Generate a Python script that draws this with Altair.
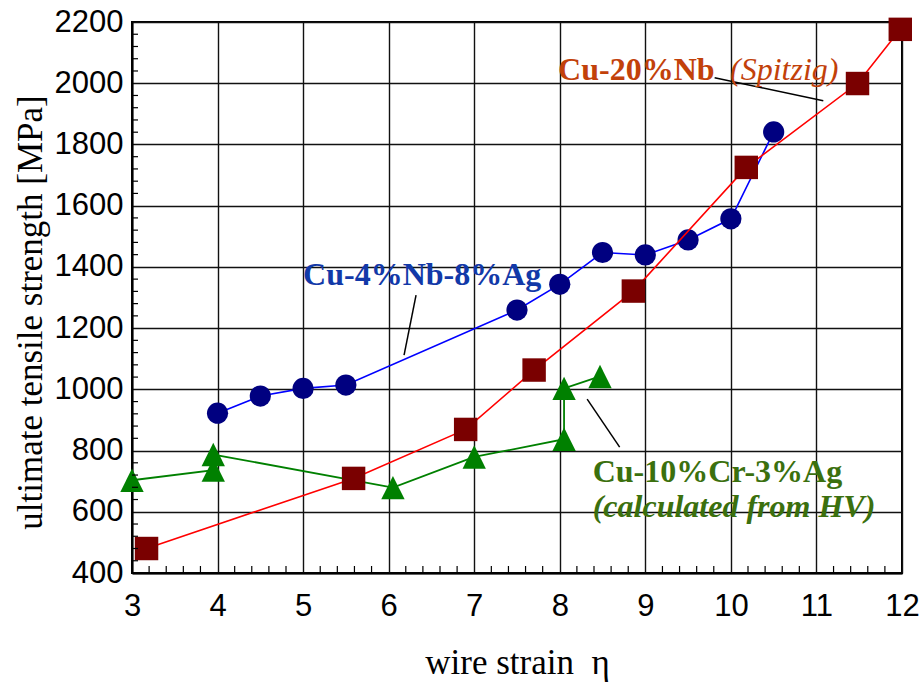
import altair as alt
import pandas as pd

# ---- data ----
blue_x = [4.0, 4.5, 5.0, 5.5, 7.5, 8.0, 8.5, 9.0, 9.5, 10.0, 10.5]
blue_y = [922, 978, 1003, 1014, 1259, 1343, 1447, 1439, 1488, 1557, 1841]

red_x = [3.17, 5.59, 6.90, 7.70, 8.86, 10.18, 11.48, 11.98]
red_y = [480, 709, 869, 1063, 1321, 1725, 1999, 2176]

green_x = [3.0, 3.95, 3.95, 6.05, 7.0, 8.05, 8.05, 8.47]
green_y = [703, 736, 787, 679, 779, 837, 1003, 1042]

x_ticks = [3, 4, 5, 6, 7, 8, 9, 10, 11, 12]
y_ticks = [400, 600, 800, 1000, 1200, 1400, 1600, 1800, 2000, 2200]
x_minor = [round(3 + 0.2 * i, 2) for i in range(46) if i % 5 != 0]
y_minor = [400 + 40 * i for i in range(46) if i % 5 != 0]

labels_text = ["Cu-4%Nb-8%Ag", "Cu-20%Nb", "(Spitzig)", "Cu-10%Cr-3%Ag", "(calculated from HV)"]
labels_x = [5.0, 7.98, 9.99, 8.385, 8.385]
labels_y = [1341, 2012, 2012, 696, 582]
labels_color = ["#1239a8", "#c2410a", "#c2410a", "#3b700e", "#3b700e"]
labels_style = ["bold", "bold", "italic", "bold", "bolditalic"]

lead_x = [6.32, 9.81, 8.32]
lead_y = [1308, 2018, 968]
lead_x2 = [6.18, 11.08, 8.70]
lead_y2 = [1112, 1943, 811]

W, H = 770, 551

blue = pd.DataFrame({"x": blue_x, "y": blue_y})
red = pd.DataFrame({"x": red_x, "y": red_y})
green = pd.DataFrame({"x": green_x, "y": green_y, "o": list(range(len(green_x)))})
labels = pd.DataFrame({"t": labels_text, "x": labels_x, "y": labels_y,
                       "c": labels_color, "s": labels_style})
leads = pd.DataFrame({"x": lead_x, "y": lead_y, "x2": lead_x2, "y2": lead_y2})
xmin = pd.DataFrame({"x": x_minor})
ymin = pd.DataFrame({"y": y_minor})

xs = alt.Scale(domain=[3, 12], nice=False, zero=False)
ys = alt.Scale(domain=[400, 2200], nice=False, zero=False)

x_axis = alt.Axis(values=x_ticks, format="d", grid=True, ticks=False, title="wire strain\u00a0\u00a0η",
                  labelFont="Liberation Sans", labelFontSize=31, labelColor="black",
                  labelPadding=18, labelFlush=False,
                  titleFont="Liberation Serif", titleFontSize=35, titleFontWeight="normal",
                  titleColor="black", titleX=385, titleY=100, titleBaseline="alphabetic",
                  titleAlign="center")
y_axis = alt.Axis(values=y_ticks, format="d", grid=True, ticks=False, title="ultimate tensile strength [MPa]",
                  labelFont="Liberation Sans", labelFontSize=31, labelColor="black",
                  labelPadding=9, labelFlush=False,
                  titleFont="Liberation Serif", titleFontSize=35, titleFontWeight="normal",
                  titleColor="black", titleX=-91, titleY=290, titleAngle=270,
                  titleBaseline="alphabetic", titleAlign="center")

X = alt.X("x:Q", scale=xs, axis=x_axis)
Y = alt.Y("y:Q", scale=ys, axis=y_axis)

tri = "M0,-1L1,1L-1,1Z"

g_line = alt.Chart(green).mark_line(color="#008000", strokeWidth=1.8).encode(x=X, y=Y, order="o:Q")
g_pts = alt.Chart(green).mark_point(shape=tri, filled=True, color="#008000", opacity=1, size=545).encode(x=X, y=Y)
b_line = alt.Chart(blue).mark_line(color="#0000ff", strokeWidth=1.6).encode(x=X, y=Y)
b_pts = alt.Chart(blue).mark_circle(color="#000080", opacity=1, size=450).encode(x=X, y=Y)
r_line = alt.Chart(red).mark_line(color="#ff0000", strokeWidth=1.6).encode(x=X, y=Y)
r_pts = alt.Chart(red).mark_square(color="#7a0000", opacity=1, size=550).encode(x=X, y=Y)

xm = alt.Chart(xmin).mark_rule(color="black", strokeWidth=1.2).encode(
    x=X, y=alt.value(H), y2=alt.value(H - 7))
ym = alt.Chart(ymin).mark_rule(color="black", strokeWidth=1.2).encode(
    y=Y, x=alt.value(0), x2=alt.value(6))

lead = alt.Chart(leads).mark_rule(color="black", strokeWidth=1.5).encode(
    x=X, y=Y, x2="x2:Q", y2="y2:Q")

def txt(style, weight, fstyle):
    return alt.Chart(labels).transform_filter(alt.datum.s == style).mark_text(
        font="Liberation Serif", fontSize=32, fontWeight=weight, fontStyle=fstyle,
        align="left", baseline="alphabetic").encode(
        x=X, y=Y, text="t:N", color=alt.Color("c:N", scale=None))

t1 = txt("bold", "bold", "normal")
t2 = txt("italic", "normal", "italic")
t3 = txt("bolditalic", "bold", "italic")

chart = alt.layer(g_line, g_pts, b_line, b_pts, r_line, r_pts, xm, ym, lead, t1, t2, t3).properties(
    width=W, height=H,
    autosize=alt.AutoSizeParams(type="none"),
    padding={"left": 132, "top": 22, "right": 21, "bottom": 109},
    background="white",
).configure_view(stroke="black", strokeWidth=2).configure_axis(
    domainColor="black", domainWidth=2, gridColor="#111111", gridWidth=1.4, gridOpacity=1)

chart.save("out.html", embed_options={"renderer": "svg", "actions": False})
